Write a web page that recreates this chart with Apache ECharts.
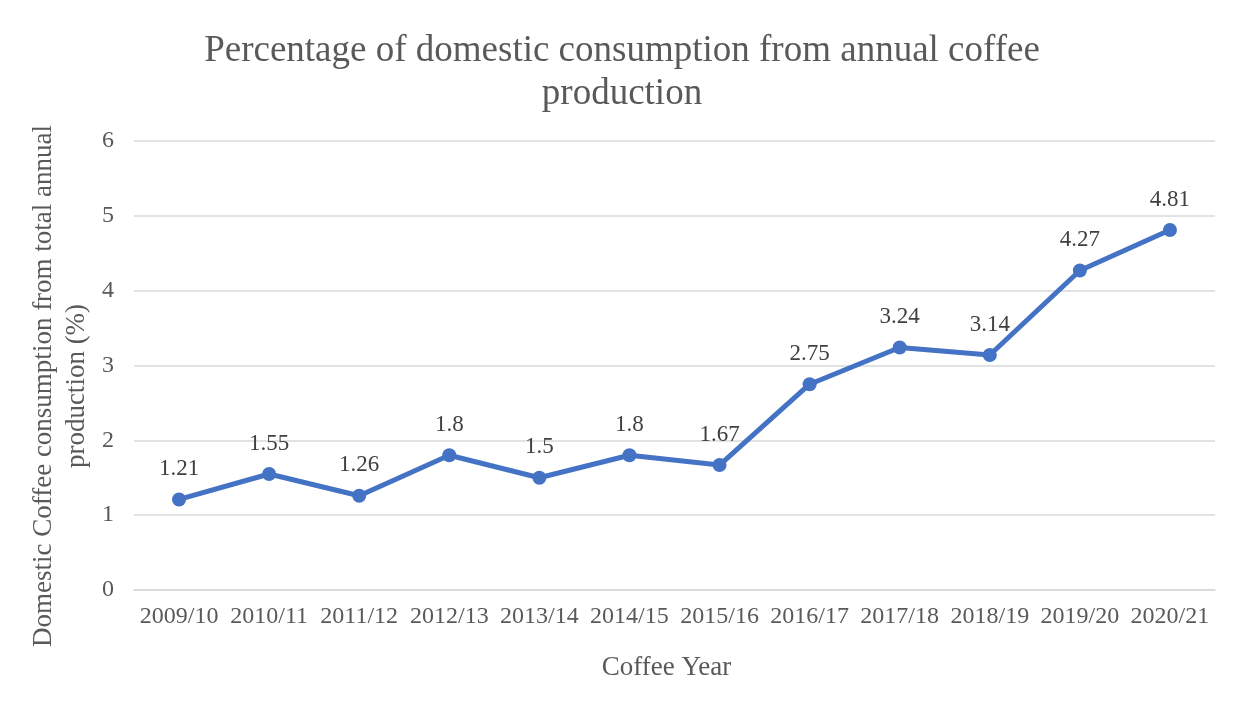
<!DOCTYPE html>
<html>
<head>
<meta charset="utf-8">
<script src="https://cdn.jsdelivr.net/npm/echarts@6/dist/echarts.min.js"></script>
<style>
  html, body { margin: 0; padding: 0; background: #fff; }
  #chart { width: 1244px; height: 702px; }
</style>
</head>
<body>
<div id="chart"></div>
<script>
// Coffee years and share of production consumed domestically (%)
const coffeeYears = ['2009/10', '2010/11', '2011/12', '2012/13', '2013/14', '2014/15',
  '2015/16', '2016/17', '2017/18', '2018/19', '2019/20', '2020/21'];
const domesticShare = [1.21, 1.55, 1.26, 1.8, 1.5, 1.8, 1.67, 2.75, 3.24, 3.14, 4.27, 4.81];
const yTicks = { min: 0, max: 6, interval: 1 };

const serif = '"Liberation Serif", "Times New Roman", serif';
const chart = echarts.init(document.getElementById('chart'));

chart.setOption({
  backgroundColor: '#ffffff',
  title: {
    text: 'Percentage of domestic consumption from annual coffee\nproduction',
    left: 'center',
    top: 25,
    textStyle: {
      fontFamily: serif,
      fontSize: 37,
      fontWeight: 'normal',
      color: '#595959',
      lineHeight: 43
    }
  },
  // vertical axis title, centred on the label column rather than the axis
  graphic: [{
    type: 'text',
    x: 60,
    y: 386,
    rotation: Math.PI / 2,
    style: {
      text: 'Domestic Coffee consumption from total annual\nproduction (%)',
      font: '27px ' + serif,
      lineHeight: 33,
      fill: '#595959',
      align: 'center',
      verticalAlign: 'middle'
    }
  }],
  grid: { left: 134, right: 29, top: 141, bottom: 112 },
  xAxis: {
    type: 'category',
    data: coffeeYears,
    boundaryGap: true,
    name: 'Coffee Year',
    nameLocation: 'middle',
    nameGap: 64,
    nameTextStyle: { fontFamily: serif, fontSize: 27, color: '#595959', padding: [0, 16, 0, 0] },
    axisLine: { show: true, lineStyle: { color: '#d9d9d9', width: 1.5 } },
    axisTick: { show: false },
    axisLabel: { fontFamily: serif, fontSize: 24, color: '#595959', margin: 15, interval: 0 }
  },
  yAxis: {
    type: 'value',
    min: yTicks.min,
    max: yTicks.max,
    interval: yTicks.interval,
    axisLine: { show: false },
    axisTick: { show: false },
    axisLabel: { fontFamily: serif, fontSize: 24, color: '#595959', margin: 20 },
    splitLine: { lineStyle: { color: '#d9d9d9', width: 1.5 } }
  },
  series: [{
    type: 'line',
    data: domesticShare,
    symbol: 'circle',
    symbolSize: 14,
    itemStyle: { color: '#4472C4' },
    lineStyle: { color: '#4472C4', width: 5 },
    label: {
      show: true,
      position: 'top',
      distance: 12,
      fontFamily: serif,
      fontSize: 23,
      color: '#404040'
    },
    animation: false
  }]
});
</script>
</body>
</html>
